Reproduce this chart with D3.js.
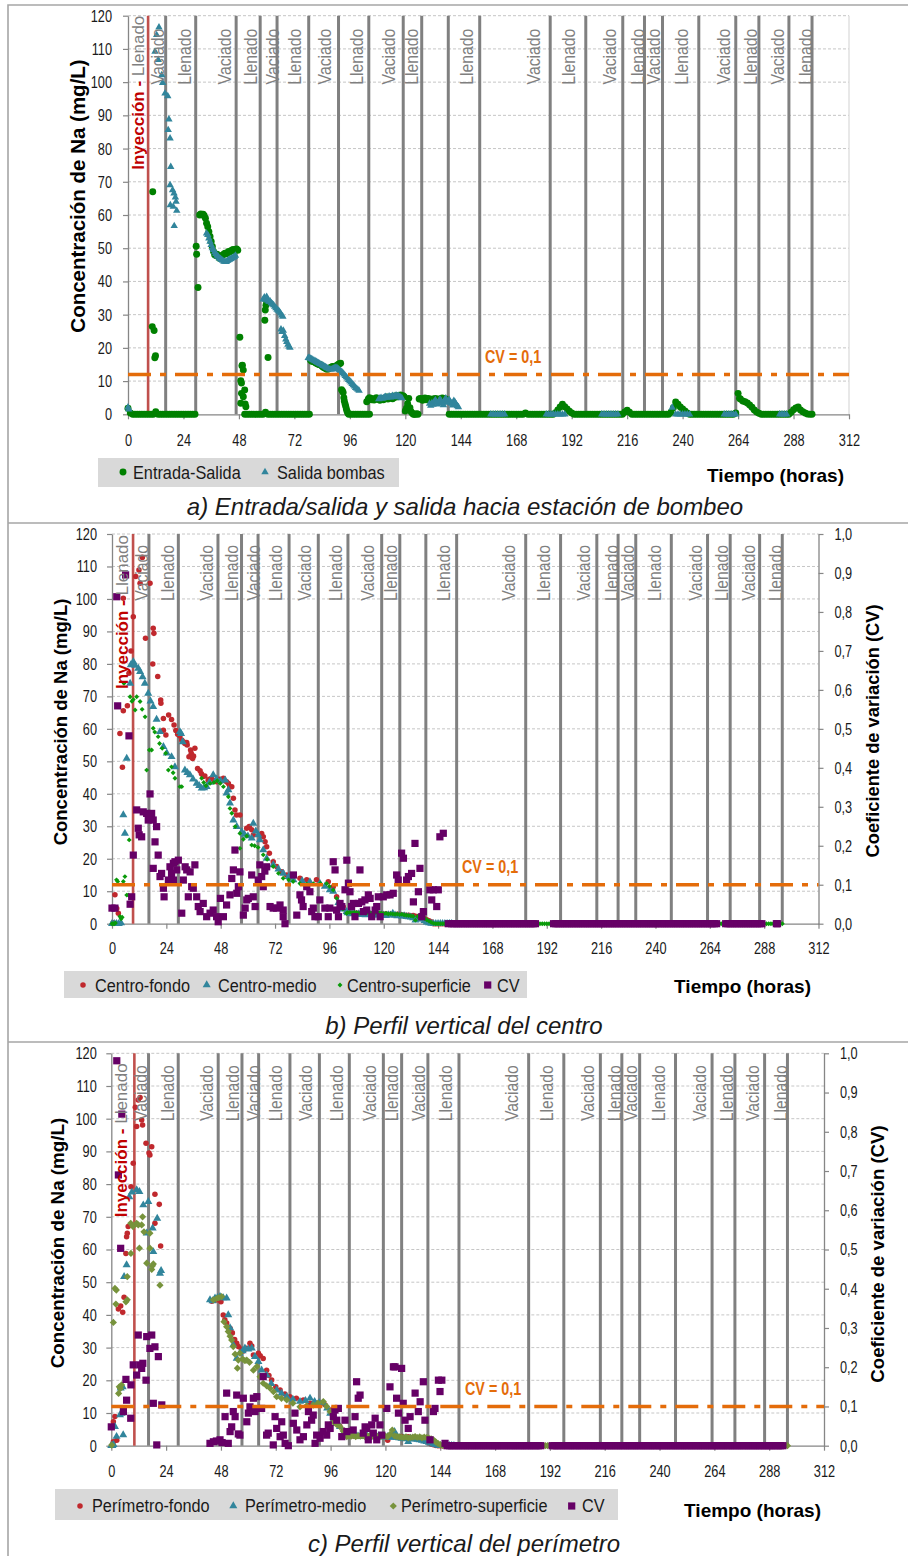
<!DOCTYPE html>
<html>
<head>
<meta charset="utf-8">
<script src="https://cdn.jsdelivr.net/npm/d3@7"></script>
<style>
  body { margin: 0; background: #fff; }
  svg { display: block; font-family: "Liberation Sans", Arial, sans-serif; }
</style>
</head>
<body>
<script>
// ---------------------------------------------------------------------------
// Axis ticks
const hourTicks = [0, 24, 48, 72, 96, 120, 144, 168, 192, 216, 240, 264, 288, 312];
const naTicks = [0, 10, 20, 30, 40, 50, 60, 70, 80, 90, 100, 110, 120];
const cvTicks = [0, 0.1, 0.2, 0.3, 0.4, 0.5, 0.6, 0.7, 0.8, 0.9, 1.0];

// CV = 0,1 reference (mg/L scale equivalent in panel a)
const cvThreshold = 0.1;
const cvThresholdNa = 12;

// Operation events (hours)
const injectionHours = { a: 8.7, b: 9.3, c: 10.1 };
const injectionLabelHour = 4.4;
const phaseChangeHours = [16.3, 29.3, 46.8, 57.2, 64.5, 78.2, 91.1, 104.2, 119.1, 127.1, 138.6, 152.2,
  182.7, 198.1, 214.1, 223.5, 231.3, 247.0, 263.0, 273.0, 286.0, 296.0];
const phaseLabels = ["Vaciado", "Llenado", "Vaciado", "Llenado", "Vaciado", "Llenado", "Vaciado", "Llenado",
  "Vaciado", "Llenado", "Llenado", "Vaciado", "Llenado", "Vaciado", "Llenado", "Vaciado", "Llenado",
  "Vaciado", "Llenado", "Vaciado", "Llenado"];
const phaseLabelHours = [12.8, 24.4, 41.5, 52.8, 62.3, 72.0, 85.0, 98.6, 112.8, 122.7, 146.3, 175.2,
  190.5, 208.2, 220.3, 227.4, 239.4, 257.5, 269.2, 280.8, 292.9];
const extraPhaseLabelsC = ["Vaciado"];
const extraPhaseLabelHoursC = [134.4];

// ---------------------------------------------------------------------------
// Series. Each entry is either a single reading [hour, value] or a regularly
// logged stretch [first hour, logging step (h), [readings...]].

// a) Entrada-Salida (mg/L)
const entradaSalida = [
  [0, 1, [1.8, 0.4, 0, 0, 0, 0, 0, 0, 0, 0, 0, 0, 0.8, 0, 0, 0, 0, 0, 0, 0, 0, 0, 0, 0, 0, 0, 0, 0, 0, 0]],
  [10.7, 67.0], [10.5, 26.4], [11.3, 25.2], [11.6, 17.0], [11.9, 17.6],
  [29.5, 50.6], [29.7, 48.2], [30.3, 38.2],
  [31, 0.5, [60.0, 60.3, 60.1, 60.2, 59.8, 59.0, 57.5, 56.5, 55.0, 53.5, 52.0, 50.5, 49.0, 48.0, 47.8, 48.2, 47.5,
    47.0, 47.2, 47.6, 48.0, 48.2, 48.5, 48.3, 48.6, 49.0, 48.8, 49.2, 49.4, 49.6, 49.3, 49.6, 49.8, 49.4]],
  [48.4, 23.2], [48.8, 10.1], [49.1, 9.4], [49.5, 14.8], [49.9, 13.3], [49.3, 14.6], [50.5, 7.3], [49.1, 6.3],
  [49.9, 5.3], [48.8, 3.3], [50.7, 3.1], [51.0, 2.3],
  [50.5, 1, [0, 0, 0, 0, 0, 0, 0, 0, 0, 0.6, 0, 0, 0, 0, 0, 0, 0, 0, 0, 0, 0, 0, 0, 0, 0, 0, 0, 0, 0]],
  [59.2, 28.3], [59.4, 31.4], [59.7, 32.8], [60.0, 34.0], [60.6, 17.1],
  [79, 0.5, [16.3, 16.0, 16.0, 15.8, 15.6, 15.4, 15.2, 15.0, 15.0, 14.8, 14.5, 14.2, 14.0, 13.8, 13.6, 13.6, 13.8,
    14.0, 14.2, 14.4, 14.3, 14.2, 14.4, 14.8, 15.0, 15.2, 15.4]],
  [92.4, 7.4], [92.8, 7.0], [93.1, 6.6], [93.4, 5.0], [93.6, 4.0], [93.9, 3.2], [94.2, 2.4], [94.5, 1.6], [94.8, 0.9], [95.1, 0.4],
  [95.5, 1, [0, 0, 0, 0, 0, 0, 0, 0, 0, 0]],
  [103.3, 3.8],
  [104, 0.5, [4.6, 5.0, 4.8, 4.4, 4.7, 4.3, 4.6, 5.0, 4.5, 4.8, 4.2, 4.5, 4.8, 4.4, 4.6, 4.9, 5.2, 4.6, 4.8, 5.0,
    5.3, 4.7, 5.0, 5.5, 5.2, 5.6, 5.3, 5.5, 5.8, 5.4]],
  [119, 0.5, [5.6, 5.3, 1.0, 1.8, 3.2, 4.8, 2.0, 0.8, 0.3, 0, 0, 0, 0.2, 0]],
  [126, 0.5, [4.6, 4.8, 4.5, 4.2, 4.7, 4.9, 4.4, 4.6, 4.8, 4.3, 4.5, 4.1, 4.6, 4.4, 4.8, 4.5, 4.2, 4.6, 4.4, 4.7,
    4.9, 4.5, 4.3, 4.6, 4.2]],
  [139, 1, [
    0, 0, 0, 0, 0, 0, 0, 0, 0, 0,
    0, 0, 0, 0, 0, 0, 0, 0, 0, 0,
    0, 0, 0, 0, 0, 0, 0, 0, 0, 0,
    0, 0, 0, 0.4, 0, 0, 0, 0, 0, 0,
    0, 0, 0, 0, 0, 0, 0.5, 1.3, 2.2, 3.0,
    2.3, 1.6, 0.9, 0.4, 0, 0, 0, 0, 0, 0,
    0, 0, 0, 0, 0, 0, 0, 0, 0, 0,
    0, 0, 0, 0, 0, 0, 0.7, 1.2, 0.6, 0,
    0, 0, 0, 0, 0, 0, 0, 0, 0, 0,
    0, 0, 0, 0, 0, 0, 0.6, 2.0, 3.7, 3.0,
    2.2, 1.6, 1.0, 0.4, 0, 0, 0, 0, 0, 0,
    0, 0, 0, 0, 0, 0, 0, 0, 0, 0,
    0, 0, 0, 0, 0.4, 6.3, 4.6, 4.0, 3.8, 3.4,
    2.8, 2.1, 1.3, 0.7, 0.3, 0, 0, 0, 0, 0,
    0, 0, 0, 0, 0, 0, 0, 0, 0.6, 1.4,
    1.9, 2.2, 1.3, 0.8, 0.4, 0.1, 0, 0]],
  [264.6, 4.8]
];

// a) Salida bombas (mg/L)
const salidaBombas = [
  [0, 2.1], [0.4, 1.5],
  [11.7, 109.2], [12.4, 114.2], [13.4, 116.5], [13.1, 106.7], [14.6, 102.1], [15.0, 99.8], [16.0, 96.6],
  [17.2, 95.8], [17.7, 88.8], [17.4, 85.6], [18.2, 83.1], [18.5, 74.5], [18.2, 69.0], [19.3, 67.5], [19.9, 66.5],
  [20.5, 65.3], [20.8, 64.0], [18.3, 63.0], [19.6, 62.5], [21.1, 61.3], [20.0, 56.7],
  [34, 0.5, [54.5, 54.0, 53.0, 52.0, 51.0, 50.0, 49.5, 48.8, 48.3, 47.8, 47.5, 47.0, 46.8, 46.5, 46.3, 46.0, 46.0,
    45.9, 46.2, 46.4, 46.6, 46.8, 47.0, 47.2, 47.4, 47.8]],
  [58.5, 0.5, [34.6, 35.2, 34.5, 35.4, 34.2, 33.9, 34.0, 33.5, 33.2, 32.9, 32.4, 32.0, 31.5, 31.2, 30.9, 30.4, 29.8, 29.4]],
  [66.2, 25.6], [66.6, 24.8], [67.2, 25.2], [67.8, 23.6], [68.3, 22.6], [68.7, 21.8], [69.2, 21.0], [69.7, 20.4], [70.1, 20.1],
  [78, 0.5, [17.0, 16.9, 16.8, 16.6, 16.4, 16.2, 16.0, 15.8, 15.6, 15.4, 15.2, 15.0, 14.8, 14.6, 14.4, 14.2, 14.0,
    13.8, 13.6, 13.5, 13.5, 13.6, 13.8, 14.0, 14.1, 13.9, 13.6, 13.3, 13.0, 12.8, 12.4, 12.0, 11.6, 11.2, 10.8,
    10.4, 10.0, 9.6, 9.2, 8.8, 8.4, 8.0, 7.7, 7.4, 7.1]],
  [108.5, 0.5, [4.6, 4.8, 5.0, 4.7, 4.9, 5.1, 5.3, 5.0, 5.2, 5.4, 5.1, 5.3, 5.6, 5.2, 5.5, 5.7, 5.4, 5.6, 5.3, 5.1, 4.9]],
  [130.5, 0.5, [3.2, 2.6, 3.4, 2.9, 3.8, 4.3, 3.6, 3.0, 3.9, 4.5, 4.0, 3.4, 2.8, 4.2, 4.8, 3.9, 3.5, 4.4, 3.7, 3.2,
    2.7, 4.1, 3.6, 3.0, 2.5, 2.2]],
  [157, 1, [0, 0, 0, 0, 0, 0, 0]],
  [181, 1, [0, 0, 0, 0, 0, 0, 0, 0, 0]],
  [205, 1, [0, 0, 0, 0, 0, 0, 0, 0]],
  [235.5, 2.0],
  [237, 1, [0, 0, 0, 0, 0, 0, 0]],
  [258, 1, [0, 0, 0, 0, 0, 0]],
  [282, 1, [0, 0, 0, 0]]
];

// b) Centro-fondo (mg/L)
const centroFondo = [
  [0.5, 0.3], [1.3, 8.9], [2.1, 4.7], [2.8, 3.2],
  [3.5, 58.6], [4.6, 48.2], [5.0, 65.6], [6.8, 67.1], [5.0, 100.2], [9.4, 94.5], [8.4, 84.0], [7.5, 77.1],
  [10.5, 106.9], [11.9, 108.9], [13.4, 112.8], [12.4, 104.8], [16.8, 104.8], [14.8, 87.9], [18.2, 91.0],
  [18.5, 89.4], [18.0, 80.0], [20.2, 76.1], [21.5, 68.9], [21.6, 67.9], [22.7, 63.2], [22.7, 59.6], [23.8, 58.1],
  [25.0, 64.3], [26.3, 62.9], [27.4, 61.2], [28.2, 59.5], [29.0, 58.3], [30.0, 57.8], [30.8, 56.6], [31.5, 56.0],
  [32.2, 55.5], [33.0, 55.8], [33.2, 55.0], [34.7, 53.5], [34.0, 51.4], [35.0, 52.5], [35.6, 50.9], [36.0, 51.6],
  [36.6, 54.0], [37.8, 47.8], [38.9, 47.1], [39.5, 46.2], [40.3, 45.3], [41.0, 45.5], [42.5, 44.2], [43.0, 44.5],
  [44.0, 44.8], [45.0, 44.0], [46.2, 43.7], [47.5, 44.5], [49.2, 44.8], [50.6, 43.7], [51.4, 43.2], [52.0, 42.2],
  [52.9, 42.2], [53.6, 38.6], [54.3, 35.0], [55.0, 33.5], [56.5, 33.5], [59.5, 29.4], [60.6, 29.9], [61.7, 28.9],
  [62.4, 27.3], [66.1, 27.8], [66.8, 26.8], [67.6, 25.2], [68.3, 23.7], [69.5, 21.7], [71.2, 19.1], [72.7, 17.6],
  [75.0, 16.0], [77.1, 15.0], [80.1, 14.5], [83.0, 14.0], [86.0, 13.5], [90.3, 13.5], [95.5, 12.9], [97.7, 11.4],
  [99.2, 8.3], [102.1, 5.2], [103.6, 3.7],
  [104, 1, [3.5, 3.4, 3.3, 3.2, 3.3, 3.1, 3.2, 3.0, 3.1, 3.2, 3.0, 3.1, 2.9, 3.0, 3.1, 3.0, 2.9, 3.0, 2.8, 2.9,
    2.8, 2.7, 2.9, 2.8, 2.6, 2.7, 2.5, 2.6, 2.4, 2.5, 2.3, 2.2, 2.0, 1.8, 1.5, 1.2, 0.9, 0.6]],
  [142, 1, [0, 0, 0, 0, 0, 0, 0, 0]]
];

// b) Centro-medio (mg/L)
const centroMedio = [
  [0, 0], [1, 0], [2, 0], [3, 0], [4, 0.2], [5.0, 33.5], [5.7, 27.8], [6.5, 50.9], [8.0, 74.0], [8.3, 79.7],
  [9.4, 80.7], [10.2, 79.5], [11.6, 78.6], [12.4, 77.6], [13.5, 76.0], [14.5, 74.0], [16.0, 70.9], [17.0, 68.5],
  [18.2, 66.8], [19.7, 62.9], [21.2, 59.1], [22.7, 54.5], [24.2, 52.5], [26.3, 51.4], [27.8, 48.3], [30.0, 59.1],
  [30.5, 58.5], [31.2, 56.0], [32.2, 47.3], [33.3, 46.5], [34.4, 45.8], [35.8, 44.5], [37.4, 43.2], [38.5, 42.5],
  [39.6, 41.7], [40.7, 41.8], [41.8, 42.2], [43.0, 43.5], [44.7, 45.8], [46.2, 44.5], [48.0, 44.0], [50.0, 44.2],
  [51.4, 41.2], [50.6, 40.2], [52.1, 37.1], [53.6, 31.9], [55.1, 29.9], [57.3, 28.3], [58.5, 27.5], [60.0, 27.0],
  [61.7, 26.3], [62.4, 30.9], [63.5, 28.5], [64.6, 27.3], [65.3, 25.8], [66.8, 22.7], [68.3, 20.1], [71.2, 18.1],
  [73.5, 16.8], [75.6, 15.5], [78.0, 14.5], [80.1, 13.5], [84.0, 13.2], [87.4, 12.9], [91.8, 12.4], [94.0, 11.5],
  [96.2, 10.4], [97.7, 9.9], [100.0, 6.5], [102.0, 4.5], [103.6, 3.7],
  [104, 1, [3.3, 3.2, 3.0, 3.1, 2.9, 3.0, 2.8, 2.9, 2.7, 2.8, 2.9, 2.7, 2.8, 2.6, 2.7, 2.8, 2.6, 2.5, 2.7, 2.6,
    3.2, 2.6, 2.4, 2.5, 2.3, 2.4, 2.2, 2.1, 2.0, 1.8, 1.1, 1.5, 2.0, 1.4, 0.9, 0.5, 0.2, 0.1, 0, 0,
    0, 0, 0, 0, 0, 0, 0]]
];

// b) Centro-superficie (mg/L)
const centroSuperficie = [
  [0, 0], [0.5, 0], [1, 0], [1.5, 0.2], [2.0, 13.5], [2.5, 13.0], [3.5, 2.2], [4.0, 1.5], [4.5, 2.0], [5.0, 13.0],
  [5.3, 74.0], [5.7, 14.5], [6.5, 8.8], [7.2, 8.8], [7.6, 25.8], [8.0, 69.9], [8.8, 68.5], [9.4, 69.0], [10.2, 65.8],
  [10.9, 69.9], [12.4, 68.4], [13.3, 66.0], [14.6, 63.7], [15.3, 47.3], [16.5, 53.5], [17.5, 53.5], [18.2, 60.2],
  [18.9, 59.0], [20.4, 57.6], [21.0, 55.5], [22.2, 54.0], [23.7, 52.5], [24.9, 47.3], [26.3, 48.3], [27.0, 46.5],
  [27.8, 44.8], [30.0, 42.2], [30.8, 42.2], [39.6, 44.8], [40.5, 43.5], [41.5, 42.5], [43.3, 43.2], [45.0, 43.5],
  [46.5, 44.0], [47.8, 43.2], [49.2, 42.2], [51.4, 39.1], [52.1, 35.5], [52.9, 34.0], [54.4, 29.9], [56.5, 27.8],
  [56.5, 23.2], [58.0, 26.0], [59.5, 27.0], [61.7, 24.2], [63.0, 24.0], [64.5, 23.5], [66.8, 21.2], [68.5, 19.8],
  [71.2, 17.6], [73.5, 15.5], [75.6, 14.0], [78.0, 13.5], [80.0, 13.0], [83.0, 12.4], [86.0, 12.2], [89.0, 12.3],
  [92.0, 12.4], [94.8, 12.4], [96.0, 11.5], [97.7, 10.4], [99.2, 7.8], [100.6, 5.8], [102.0, 4.5], [103.6, 3.2],
  [104, 1, [3.4, 3.5, 3.3, 3.5, 3.4, 3.2, 3.4, 3.5, 3.3, 3.4, 3.2, 3.4, 3.3, 3.5, 3.4, 3.2, 3.1, 3.2, 3.0, 3.1,
    3.0, 2.9, 3.0, 2.8, 2.9, 2.7, 2.6, 2.5, 2.4, 2.3, 1.1, 2.2, 2.0, 1.8, 1.6, 1.2, 0.8, 0.4, 0.1, 0]],
  [144, 1, [
    0, 0, 0, 0, 0, 0, 0, 0, 0, 0,
    0, 0, 0, 0, 0, 0, 0, 0, 0, 0,
    0, 0, 0, 0, 0, 0, 0, 0, 0, 0,
    0, 0, 0, 0, 0, 0, 0, 0, 0, 0,
    0, 0, 0, 0, 0, 0, 0, 0, 0, 0,
    0, 0, 0, 0, 0, 0, 0, 0, 0, 0,
    0, 0, 0, 0, 0, 0, 0, 0, 0, 0,
    0, 0, 0, 0, 0, 0, 0, 0, 0, 0,
    0, 0, 0, 0, 0, 0, 0, 0, 0, 0,
    0, 0, 0, 0, 0, 0, 0, 0, 0, 0,
    0, 0, 0, 0, 0, 0, 0, 0, 0, 0,
    0, 0, 0, 0, 0, 0, 0, 0, 0, 0,
    0, 0, 0, 0, 0, 0, 0, 0, 0, 0,
    0, 0, 0, 0, 0, 0, 0, 0, 0, 0,
    0, 0, 0, 0, 0, 0, 0, 0, 0, 0,
    0, 0, 0]]
];

// b) CV of the centre profile (right axis)
const centroCV = [
  [0.0, 0.04], [1.3, 0.04], [2.1, 0.839], [2.5, 0.559], [6.0, 0.895], [7.5, 0.482], [8.0, 0.05], [8.7, 0.069],
  [9.4, 0.176], [10.9, 0.292], [11.6, 0.245], [12.0, 0.228], [13.1, 0.223], [13.8, 0.287], [15.3, 0.283],
  [16.0, 0.266], [16.8, 0.333], [17.5, 0.283], [18.2, 0.266], [18.2, 0.142], [19.0, 0.210], [19.7, 0.249],
  [20.4, 0.176], [21.2, 0.121], [21.9, 0.129], [22.7, 0.091], [23.0, 0.069], [24.9, 0.112], [25.6, 0.146],
  [26.3, 0.129], [27.1, 0.155], [27.1, 0.112], [27.8, 0.159], [28.6, 0.138], [29.3, 0.163], [30.8, 0.027],
  [31.5, 0.112], [32.3, 0.146], [33.0, 0.138], [33.7, 0.069], [34.5, 0.133], [35.2, 0.095], [35.9, 0.091],
  [36.6, 0.151], [37.4, 0.069], [38.1, 0.044], [38.9, 0.031], [40.3, 0.052], [41.8, 0.018], [43.3, 0.027],
  [44.7, 0.035], [46.2, 0.018], [46.9, 0.005], [47.9, 0.065], [49.2, 0.018], [50.6, 0.048], [52.1, 0.074],
  [52.9, 0.116], [53.6, 0.138], [54.3, 0.189], [55.1, 0.078], [55.8, 0.095], [56.5, 0.133], [58.0, 0.022],
  [58.8, 0.04], [59.5, 0.061], [60.2, 0.065], [61.7, 0.125], [62.4, 0.069], [63.2, 0.044], [64.6, 0.112],
  [65.3, 0.151], [66.1, 0.121], [66.8, 0.095], [67.5, 0.135], [68.3, 0.146], [69.8, 0.044], [71.2, 0.04],
  [72.7, 0.04], [74.2, 0.048], [75.6, 0.035], [75.6, 0.018], [76.4, 0.0], [80.1, 0.125], [81.6, 0.022],
  [83.0, 0.074], [83.7, 0.061], [84.4, 0.044], [86.0, 0.095], [87.4, 0.082], [88.2, 0.031], [88.9, 0.04],
  [89.6, 0.018], [91.1, 0.018], [91.8, 0.061], [94.0, 0.04], [95.5, 0.018], [96.2, 0.04], [97.7, 0.159],
  [98.5, 0.138], [99.2, 0.035], [100.0, 0.018], [100.7, 0.052], [101.5, 0.044], [102.9, 0.087], [103.7, 0.163],
  [104.4, 0.104], [105.1, 0.082], [105.8, 0.044], [106.6, 0.052], [107.3, 0.018], [108.8, 0.052], [109.5, 0.138],
  [110.3, 0.056], [111.0, 0.031], [111.7, 0.061], [112.5, 0.035], [113.2, 0.074], [114.0, 0.065], [114.7, 0.018],
  [116.2, 0.035], [116.9, 0.044], [117.6, 0.069], [118.4, 0.018], [119.8, 0.069], [121.3, 0.074], [122.8, 0.074],
  [124.2, 0.078], [125.7, 0.125], [126.4, 0.112], [127.9, 0.181], [128.7, 0.168], [130.1, 0.112], [130.9, 0.121],
  [132.3, 0.129], [133.1, 0.056], [133.8, 0.206], [135.3, 0.082], [136.0, 0.142], [136.8, 0.018], [137.5, 0.031],
  [140.4, 0.087], [141.2, 0.061], [141.9, 0.087], [143.4, 0.044], [144.1, 0.087], [144.8, 0.223], [146.3, 0.232],
  [148.5, 0.0],
  [150, 1, [
    0, 0, 0, 0, 0, 0, 0, 0, 0, 0,
    0, 0, 0, 0, 0, 0, 0, 0, 0, 0,
    0, 0, 0, 0, 0, 0, 0, 0, 0, 0,
    0, 0, 0, 0, 0, 0, 0, 0]],
  [195, 1, [
    0, 0, 0, 0, 0, 0, 0, 0, 0, 0,
    0, 0, 0, 0, 0, 0, 0, 0, 0, 0,
    0, 0, 0, 0, 0, 0, 0, 0, 0, 0,
    0, 0, 0, 0, 0, 0, 0, 0, 0, 0,
    0, 0, 0, 0, 0, 0, 0, 0, 0, 0,
    0, 0, 0, 0, 0, 0, 0, 0, 0, 0,
    0, 0, 0, 0, 0, 0, 0, 0, 0, 0,
    0, 0, 0]],
  [271, 1, [0, 0, 0, 0, 0, 0, 0, 0, 0, 0, 0, 0, 0, 0, 0, 0, 0]],
  [293.4, 0.5, [0, 0]]
];

// c) Perímetro-fondo (mg/L)
const perimetroFondo = [
  [0.5, 0.3], [0.9, 1.2], [0.9, 7.3], [1.6, 8.9], [2.4, 1.7], [3.1, 41.8], [4.1, 42.7], [5.0, 40.8], [5.6, 45.4],
  [6.4, 58.8], [6.7, 63.9], [7.0, 65.0], [7.4, 67.0], [8.6, 79.2], [9.6, 86.4], [10.5, 103.5], [11.1, 97.6],
  [11.8, 105.7], [12.6, 106.5], [13.3, 99.6], [13.7, 98.1], [15.2, 92.5], [16.5, 89.5], [16.9, 88.9], [17.7, 91.4],
  [19.1, 76.9], [19.1, 68.0], [21.0, 73.8], [21.6, 61.1],
  [44.0, 44.2], [45.5, 44.5], [46.8, 44.6], [48.0, 44.0], [49.0, 40.0], [49.7, 38.5], [50.5, 37.5], [52.0, 35.9],
  [53.0, 34.5], [54.0, 32.5], [54.9, 31.3], [55.6, 30.3], [57.0, 29.5], [58.0, 29.0], [59.3, 29.8], [60.7, 31.3],
  [61.5, 30.5], [62.2, 27.7], [64.4, 28.3], [65.2, 27.5], [66.5, 26.7], [68.0, 23.1], [69.0, 21.5], [70.2, 20.1],
  [72.0, 18.0], [73.9, 17.0], [76.0, 15.8], [78.2, 15.0], [81.0, 14.5], [84.1, 14.0], [87.0, 13.0], [89.0, 13.2],
  [91.4, 13.0], [93.5, 12.5], [95.8, 10.9], [97.2, 9.0], [98.7, 7.3], [100.0, 6.0], [101.6, 4.8], [103.0, 4.0],
  [104.5, 3.3],
  [105, 1, [3.2, 3.0, 3.1, 2.9, 3.0, 3.1, 2.9, 3.0, 2.8, 3.0, 2.9, 3.1, 2.8, 3.0, 2.9, 2.8, 1.7, 2.9, 2.8, 3.8,
    2.7, 2.6, 2.8, 2.6, 2.5, 2.7, 2.5, 2.4, 2.6, 2.4, 2.3, 2.1, 1.8, 1.5, 1.0, 0.5, 0.3, 0.1, 0, 0,
    0, 0, 0]]
];

// c) Perímetro-medio (mg/L)
const perimetroMedio = [
  [0, 0], [0.5, 0], [1.0, 0.3], [1.6, 5.8], [2.3, 2.8], [3.8, 9.4], [4.5, 9.9], [5.2, 3.3], [4.1, 17.6], [5.0, 18.0],
  [5.6, 51.7], [6.7, 55.3], [7.9, 76.1], [9.0, 77.5], [11.1, 78.2], [12.3, 77.7], [14.0, 73.6], [16.2, 74.6],
  [15.5, 65.0], [18.1, 66.5], [18.4, 59.3], [20.1, 69.5], [21.3, 52.7], [21.8, 53.5],
  [43.2, 44.6], [44.3, 44.3], [45.4, 45.1], [46.5, 45.3], [47.6, 45.6], [49.0, 45.2], [50.5, 45.1], [51.2, 40.0],
  [52.0, 36.0], [53.4, 30.8], [54.9, 26.7], [56.3, 28.3], [57.5, 29.0], [58.5, 29.8], [60.0, 29.5], [61.5, 29.8],
  [62.9, 27.2], [64.4, 25.7], [65.8, 23.1], [68.0, 21.6], [70.0, 19.0], [72.4, 17.0], [74.5, 16.0], [76.8, 15.0],
  [79.5, 14.2], [82.6, 13.5], [85.0, 13.8], [87.0, 14.5], [89.0, 13.5], [91.0, 13.2], [92.8, 13.0], [94.5, 11.5],
  [95.8, 9.9], [97.2, 7.9], [98.5, 6.8], [100.1, 5.8], [102.0, 4.2], [104.5, 3.3],
  [105, 1, [3.2, 3.0, 3.1, 2.9, 3.0, 2.8, 2.9, 3.0, 2.8, 2.9, 2.7, 2.8, 3.0, 2.8, 2.7, 2.6, 2.8, 2.6, 2.5, 4.3,
    2.5, 2.4, 2.2, 2.3, 2.1, 1.2, 2.2, 2.0, 2.1, 1.9, 1.8, 1.6, 1.4, 1.2, 1.0, 0.8, 0.5, 0.3, 0.1, 0,
    0, 0, 0, 0, 0, 0]]
];

// c) Perímetro-superficie (mg/L)
const perimetroSuperficie = [
  [0.2, 0.2], [0.9, 37.7], [1.6, 48.1], [2.0, 43.3], [2.2, 47.6], [3.2, 16.0], [3.5, 18.0], [4.0, 17.5], [4.5, 18.6],
  [6.4, 44.0], [7.0, 44.6], [7.0, 51.7], [8.5, 68.0], [8.6, 58.8], [9.5, 67.0], [11.1, 68.0], [11.8, 67.5],
  [12.3, 60.4], [13.3, 67.5], [13.7, 70.0], [14.3, 65.4], [15.5, 55.8], [16.9, 60.4], [16.9, 65.0], [17.7, 53.9],
  [18.4, 55.6], [18.0, 55.0], [21.3, 49.1],
  [44.7, 44.6], [46.0, 45.0], [47.0, 45.3], [48.3, 45.6], [49.3, 37.9], [50.5, 36.4], [51.2, 34.9], [52.0, 33.5],
  [52.7, 32.3], [53.4, 30.3], [54.2, 28.0], [55.2, 23.7], [55.6, 26.2], [56.3, 28.3], [57.5, 26.5], [58.5, 26.0],
  [59.3, 26.2], [60.5, 25.5], [62.2, 23.1], [63.7, 24.2], [65.1, 21.1], [66.5, 19.1], [68.0, 18.3], [69.5, 17.6],
  [71.0, 16.5], [72.4, 15.0], [74.5, 14.5], [76.8, 14.0], [79.5, 13.0], [82.6, 11.9], [85.5, 12.2], [88.4, 12.4],
  [90.5, 13.0], [92.8, 13.5], [94.3, 12.0], [95.8, 10.4], [97.2, 7.3], [98.6, 6.5], [100.1, 5.8], [101.5, 4.5],
  [103.1, 2.8],
  [104, 1, [3.0, 2.9, 3.1, 2.8, 3.0, 2.9, 3.1, 2.8, 2.9, 3.0, 2.8, 2.9, 3.0, 2.7, 2.8, 3.0, 2.9, 2.8, 3.5, 4.8,
    3.0, 2.8, 2.7, 2.6, 2.5, 2.7, 2.4, 2.5, 2.6, 2.8, 2.5, 2.7, 2.4, 2.6, 2.5, 2.3, 2.1, 1.8, 1.2, 0.7,
    0.3, 0.1, 0]],
  [147, 1, [
    0, 0, 0, 0, 0, 0, 0, 0, 0, 0,
    0, 0, 0, 0, 0, 0, 0, 0, 0, 0,
    0, 0, 0, 0, 0, 0, 0, 0, 0, 0,
    0, 0, 0, 0, 0, 0, 0, 0, 0, 0,
    0, 0, 0, 0, 0, 0, 0, 0, 0, 0,
    0, 0, 0, 0, 0, 0, 0, 0, 0, 0,
    0, 0, 0, 0, 0, 0, 0, 0, 0, 0,
    0, 0, 0, 0, 0, 0, 0, 0, 0, 0,
    0, 0, 0, 0, 0, 0, 0, 0, 0, 0,
    0, 0, 0, 0, 0, 0, 0, 0, 0, 0,
    0, 0, 0, 0, 0, 0, 0, 0, 0, 0,
    0, 0, 0, 0, 0, 0, 0, 0, 0, 0,
    0, 0, 0, 0, 0, 0, 0, 0, 0, 0,
    0, 0, 0, 0, 0, 0, 0, 0, 0, 0,
    0, 0, 0, 0, 0, 0, 0, 0, 0, 0]]
];

// c) CV of the perimeter profile (right axis)
const perimetroCV = [
  [0.0, 0.048], [2.4, 0.981], [3.1, 0.69], [4.1, 0.503], [4.6, 0.845], [5.3, 0.087], [6.4, 0.169], [6.7, 0.116],
  [8.5, 0.07], [8.6, 0.155], [9.6, 0.206], [11.1, 0.18], [11.8, 0.282], [12.6, 0.206], [13.3, 0.197], [13.8, 0.21],
  [15.2, 0.167], [15.5, 0.278], [16.9, 0.248], [17.7, 0.282], [18.4, 0.108], [19.1, 0.252], [19.9, 0.002],
  [20.6, 0.227], [22.1, 0.104],
  [43.2, 0.006], [44.7, 0.01], [46.0, 0.012], [47.6, 0.015], [48.5, 0.008], [49.8, 0.074], [50.5, 0.134],
  [51.2, 0.006], [52.0, 0.036], [52.7, 0.048], [53.4, 0.087], [54.2, 0.074], [54.9, 0.129], [55.6, 0.03],
  [56.3, 0.027], [57.8, 0.121], [59.3, 0.061], [60.0, 0.083], [60.7, 0.099], [62.2, 0.121], [62.9, 0.087],
  [63.7, 0.125], [65.8, 0.095], [66.5, 0.176], [68.0, 0.027], [68.7, 0.032], [70.9, 0.002], [71.7, 0.074],
  [72.4, 0.044], [73.9, 0.023], [74.6, 0.061], [75.3, 0.027], [76.1, 0.006], [77.5, 0.0], [79.7, 0.057],
  [80.4, 0.083], [81.2, 0.04], [82.6, 0.015], [84.1, 0.023], [85.6, 0.053], [86.3, 0.087], [87.7, 0.065],
  [88.4, 0.078], [89.2, 0.006], [89.9, 0.027], [91.4, 0.019], [92.8, 0.036], [94.3, 0.027], [95.0, 0.053],
  [95.8, 0.044], [97.2, 0.074], [97.9, 0.091], [98.7, 0.065], [99.4, 0.095], [100.9, 0.023], [102.3, 0.065],
  [103.1, 0.036], [105.9, 0.04], [106.7, 0.074], [107.4, 0.163], [108.1, 0.121], [108.9, 0.129], [110.3, 0.032],
  [111.1, 0.048], [111.8, 0.044], [112.5, 0.015], [114.0, 0.053], [114.7, 0.032], [115.5, 0.07], [116.2, 0.015],
  [117.6, 0.053], [118.4, 0.027], [120.6, 0.095], [122.0, 0.15], [123.5, 0.201], [124.2, 0.201], [124.9, 0.121],
  [125.7, 0.083], [127.1, 0.197], [127.8, 0.108], [128.6, 0.065], [130.0, 0.044], [130.8, 0.074], [133.0, 0.134],
  [134.4, 0.087], [135.2, 0.112], [136.6, 0.163], [137.3, 0.065], [139.5, 0.015], [141.0, 0.087], [141.7, 0.095],
  [143.2, 0.167], [143.9, 0.138], [144.7, 0.167], [146.1, 0.006],
  [147, 1, [
    0, 0, 0, 0, 0, 0, 0, 0, 0, 0,
    0, 0, 0, 0, 0, 0, 0, 0, 0, 0,
    0, 0, 0, 0, 0, 0, 0, 0, 0, 0,
    0, 0, 0, 0, 0, 0, 0, 0, 0, 0,
    0, 0]],
  [193, 1, [
    0, 0, 0, 0, 0, 0, 0, 0, 0, 0,
    0, 0, 0, 0, 0, 0, 0, 0, 0, 0,
    0, 0, 0, 0, 0, 0, 0, 0, 0, 0,
    0, 0, 0, 0, 0, 0, 0, 0, 0, 0,
    0, 0, 0, 0, 0, 0, 0, 0, 0, 0,
    0, 0, 0, 0, 0, 0, 0, 0, 0, 0,
    0, 0, 0, 0, 0, 0, 0, 0, 0, 0,
    0, 0, 0, 0, 0, 0, 0, 0, 0, 0,
    0, 0, 0, 0, 0, 0, 0, 0, 0, 0,
    0, 0, 0, 0, 0, 0, 0, 0, 0, 0,
    0, 0]]
];

// ---------------------------------------------------------------------------
// Drawing
const W = 908, H = 1556;
const svg = d3.select("body").append("svg").attr("width", W).attr("height", H);

const COLORS = {
  green: "#008000", teal: "#31859C", red: "#C0282D", brightGreen: "#0A9B0A",
  olive: "#77933C", purple: "#660066", orange: "#E46C0A", grid: "#c6c6c6",
  axis: "#868686", event: "#808080", injection: "#C0504D", injText: "#C00000", phase: "#7f7f7f"
};

// Flatten readings: single points and regularly logged stretches.
function expand(entries) {
  const out = [];
  for (const e of entries) {
    if (Array.isArray(e[2])) e[2].forEach((v, i) => out.push([e[0] + i * e[1], v]));
    else out.push([e[0], e[1]]);
  }
  return out;
}

// Condense text horizontally (narrow chart font).
function squeeze(sel, k) {
  sel.each(function () {
    const w = this.getComputedTextLength();
    this.setAttribute("textLength", (w * k).toFixed(1));
    this.setAttribute("lengthAdjust", "spacingAndGlyphs");
  });
}

const shapes = {
  circle: d3.symbolCircle, triangle: d3.symbolTriangle, square: d3.symbolSquare,
  diamond: d3.symbolSquare  // drawn as a square turned 45°
};

function marker(sel, shape, size, color) {
  sel.attr("d", d3.symbol(shapes[shape], size)()).attr("fill", color);
  if (shape === "diamond") sel.attr("transform", function () {
    return (this.getAttribute("transform") || "") + " rotate(45)";
  });
}

function drawPanel(cfg) {
  const g = svg.append("g");
  const x = d3.scaleLinear().domain([0, 312]).range([cfg.left, cfg.right]);
  const y = d3.scaleLinear().domain([0, 120]).range([cfg.bottom, cfg.top]);
  const yCV = d3.scaleLinear().domain([0, 1]).range([cfg.bottom, cfg.top]);

  // gridlines
  g.append("g").selectAll("line").data(naTicks.filter(v => v > 0)).join("line")
    .attr("x1", cfg.left).attr("x2", cfg.right)
    .attr("y1", d => y(d)).attr("y2", d => y(d))
    .attr("stroke", COLORS.grid).attr("stroke-width", 1).attr("stroke-dasharray", "3,2");
  if (!cfg.cvAxis) {
    g.append("line").attr("x1", cfg.right).attr("x2", cfg.right).attr("y1", cfg.top).attr("y2", cfg.bottom)
      .attr("stroke", "#d9d9d9").attr("stroke-width", 1.2);
  }

  // axes
  const left = g.append("g").attr("transform", `translate(${cfg.left},0)`)
    .call(d3.axisLeft(y).tickValues(naTicks).tickSize(5).tickSizeOuter(0).tickPadding(cfg.leftPad));
  const bottom = g.append("g").attr("transform", `translate(0,${cfg.bottom})`)
    .call(d3.axisBottom(x).tickValues(hourTicks).tickSize(5).tickSizeOuter(0).tickPadding(cfg.bottomPad));
  const axes = [left, bottom];
  if (cfg.cvAxis) {
    const right = g.append("g").attr("transform", `translate(${cfg.right},0)`)
      .call(d3.axisRight(yCV).tickValues(cvTicks).tickSize(5).tickSizeOuter(0).tickPadding(11)
        .tickFormat(d => d3.format(".1f")(d).replace(".", ",")));
    axes.push(right);
  }
  axes.forEach(a => {
    a.select(".domain").attr("stroke", COLORS.axis).attr("stroke-width", 1.3);
    a.selectAll(".tick line").attr("stroke", COLORS.axis).attr("stroke-width", 1.2);
    a.selectAll(".tick text").attr("fill", "#1a1a1a").style("font-size", "17px").call(squeeze, 0.75);
  });

  // phase-change lines and injection line
  g.append("g").selectAll("line").data(phaseChangeHours).join("line")
    .attr("x1", d => x(d)).attr("x2", d => x(d)).attr("y1", cfg.top).attr("y2", cfg.bottom)
    .attr("stroke", COLORS.event).attr("stroke-width", 3);
  const inj = injectionHours[cfg.id];
  g.append("line").attr("x1", x(inj)).attr("x2", x(inj)).attr("y1", cfg.top).attr("y2", cfg.bottom)
    .attr("stroke", COLORS.injection).attr("stroke-width", 2.6);

  // series
  cfg.series.forEach(s => {
    g.append("g").selectAll("path").data(expand(s.data)).join("path")
      .attr("transform", d => `translate(${x(d[0]).toFixed(2)},${(s.cv ? yCV : y)(d[1]).toFixed(2)})`)
      .call(marker, s.shape, s.size, s.color);
  });

  // CV = 0,1 reference line
  const yRef = cfg.cvAxis ? yCV(cvThreshold) : y(cvThresholdNa);
  g.append("line").attr("x1", cfg.left).attr("x2", cfg.right).attr("y1", yRef).attr("y2", yRef)
    .attr("stroke", COLORS.orange).attr("stroke-width", 3.5).attr("stroke-dasharray", "23,9,6,9");
  g.append("text").attr("x", cfg.cvText[0]).attr("y", cfg.cvText[1])
    .attr("fill", COLORS.orange).attr("font-weight", "bold").style("font-size", "17.5px")
    .text("CV = 0,1").call(squeeze, 0.82);

  // phase labels
  const labels = phaseLabels.map((t, i) => [t, phaseLabelHours[i]]);
  if (cfg.id === "c") extraPhaseLabelsC.forEach((t, i) => labels.push([t, extraPhaseLabelHoursC[i]]));
  g.append("g").selectAll("text").data(labels).join("text")
    .attr("transform", d => `translate(${x(d[1]).toFixed(2)},${cfg.top + cfg.labelDrop}) rotate(-90)`)
    .attr("text-anchor", "end").attr("dy", "0.36em")
    .attr("fill", COLORS.phase).style("font-size", "18.5px")
    .text(d => d[0]).call(squeeze, 0.85);

  const it = g.append("text")
    .attr("transform", `translate(${x(injectionLabelHour).toFixed(2)},${cfg.top + cfg.injDrop}) rotate(-90)`)
    .attr("text-anchor", "end").attr("dy", "0.36em").style("font-size", "17px");
  it.append("tspan").attr("fill", COLORS.injText).attr("font-weight", "bold").text("Inyección -");
  it.append("tspan").attr("fill", COLORS.phase).text(" Llenado");

  // axis titles
  g.append("text")
    .attr("transform", `translate(${cfg.yTitle[0]},${cfg.yTitle[1]}) rotate(-90)`)
    .attr("text-anchor", "middle").attr("dy", "0.36em").attr("font-weight", "bold")
    .style("font-size", cfg.yTitle[2] + "px").text("Concentración de Na (mg/L)");
  if (cfg.cvAxis) {
    g.append("text")
      .attr("transform", `translate(${cfg.cvTitle[0]},${cfg.cvTitle[1]}) rotate(-90)`)
      .attr("text-anchor", "middle").attr("dy", "0.36em").attr("font-weight", "bold")
      .style("font-size", cfg.cvTitle[2] + "px").text("Coeficiente de variación (CV)");
  }
  g.append("text").attr("x", cfg.xTitle[0]).attr("y", cfg.xTitle[1]).attr("text-anchor", "end")
    .attr("font-weight", "bold").style("font-size", "19px").text("Tiempo (horas)");

  // legend
  const lg = g.append("g");
  lg.append("rect").attr("x", cfg.legend.x).attr("y", cfg.legend.y)
    .attr("width", cfg.legend.w).attr("height", cfg.legend.h).attr("fill", "#d9d9d9");
  cfg.series.forEach((s, i) => {
    const it = cfg.legend.items[i];
    lg.append("path").attr("transform", `translate(${it[0]},${cfg.legend.my})`)
      .call(marker, s.shape, s.size, s.color);
    lg.append("text").attr("x", it[1]).attr("y", cfg.legend.ty)
      .style("font-size", "17.5px").attr("fill", "#1a1a1a").text(s.name).call(squeeze, 0.93);
  });

  // caption
  g.append("text").attr("x", cfg.caption[0]).attr("y", cfg.caption[1]).attr("text-anchor", "middle")
    .attr("font-style", "italic").style("font-size", "24px").attr("fill", "#1a1a1a").text(cfg.caption[2]);
}

// outer frame of the three-part figure
svg.append("path")
  .attr("d", "M8,1556 V5 H908 M8,523 H908 M8,1042 H908")
  .attr("fill", "none").attr("stroke", "#a6a6a6").attr("stroke-width", 1.6);

drawPanel({
  id: "a", left: 128, right: 849, top: 15.7, bottom: 414.3, cvAxis: false,
  leftPad: 11, bottomPad: 15, labelDrop: 13, injDrop: 0,
  cvText: [485, 363], yTitle: [78, 196, 20.5], xTitle: [844, 482],
  legend: { x: 98, y: 458, w: 301, h: 29, my: 472, ty: 478.5, items: [[123, 133], [265, 277]] },
  caption: [465, 515, "a) Entrada/salida y salida hacia estación de bombeo"],
  series: [
    { name: "Entrada-Salida", data: entradaSalida, shape: "circle", size: 38, color: COLORS.green },
    { name: "Salida bombas", data: salidaBombas, shape: "triangle", size: 24, color: COLORS.teal }
  ]
});

drawPanel({
  id: "b", left: 112, right: 818.5, top: 534, bottom: 923.7, cvAxis: true,
  leftPad: 10, bottomPad: 13, labelDrop: 11, injDrop: 1,
  cvText: [462, 873], yTitle: [60, 722, 18.5], cvTitle: [872, 731, 18.3], xTitle: [811, 993],
  legend: { x: 64, y: 971, w: 463, h: 27, my: 985, ty: 991.5, items: [[83, 95], [206.7, 218], [340, 347], [487.7, 497]] },
  caption: [464, 1034, "b) Perfil vertical del centro"],
  series: [
    { name: "Centro-fondo", data: centroFondo, shape: "circle", size: 24, color: COLORS.red },
    { name: "Centro-medio", data: centroMedio, shape: "triangle", size: 28, color: COLORS.teal },
    { name: "Centro-superficie", data: centroSuperficie, shape: "diamond", size: 12, color: COLORS.brightGreen },
    { name: "CV", data: centroCV, shape: "square", size: 52, color: COLORS.purple, cv: true }
  ]
});

drawPanel({
  id: "c", left: 111.3, right: 824, top: 1053.3, bottom: 1445.7, cvAxis: true,
  leftPad: 9.5, bottomPad: 14.5, labelDrop: 12, injDrop: 10,
  cvText: [465, 1395], yTitle: [57, 1243, 18.8], cvTitle: [877, 1254, 18.6], xTitle: [821, 1517],
  legend: { x: 55, y: 1489, w: 563, h: 31, my: 1506, ty: 1512, items: [[80, 92], [233.3, 245], [393.3, 401], [571.7, 582]] },
  caption: [464, 1552, "c) Perfil vertical del perímetro"],
  series: [
    { name: "Perímetro-fondo", data: perimetroFondo, shape: "circle", size: 24, color: COLORS.red },
    { name: "Perímetro-medio", data: perimetroMedio, shape: "triangle", size: 28, color: COLORS.teal },
    { name: "Perímetro-superficie", data: perimetroSuperficie, shape: "diamond", size: 26, color: COLORS.olive },
    { name: "CV", data: perimetroCV, shape: "square", size: 52, color: COLORS.purple, cv: true }
  ]
});
</script>
</body>
</html>
